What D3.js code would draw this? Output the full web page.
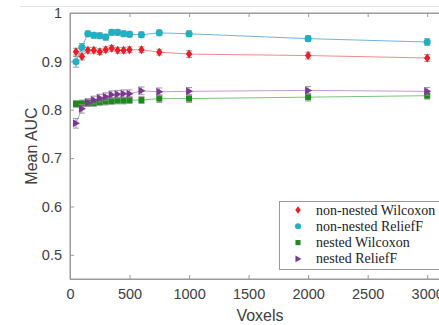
<!DOCTYPE html>
<html>
<head>
<meta charset="utf-8">
<script src="https://cdn.jsdelivr.net/npm/d3@7"></script>
<style>
  html, body { margin: 0; padding: 0; background: #fff; }
  svg { display: block; }
</style>
</head>
<body>
<div id="chart"></div>
<script>
// voxel counts on the x axis
const voxels = [50, 100, 150, 200, 250, 300, 350, 400, 450, 500, 600, 750, 1000, 2000, 3000];

// mean AUC per series
const nonNestedWilcoxon = [0.920, 0.910, 0.923, 0.923, 0.920, 0.924, 0.927, 0.923, 0.923, 0.924, 0.924, 0.919, 0.915, 0.912, 0.907];
const nonNestedRelief = [0.899, 0.929, 0.957, 0.954, 0.953, 0.950, 0.960, 0.960, 0.957, 0.956, 0.955, 0.959, 0.957, 0.947, 0.940];
const nestedWilcoxon = [0.812, 0.813, 0.814, 0.814, 0.816, 0.817, 0.818, 0.819, 0.819, 0.820, 0.820, 0.823, 0.823, 0.826, 0.829];
const nestedRelief = [0.772, 0.802, 0.815, 0.820, 0.824, 0.827, 0.831, 0.832, 0.833, 0.833, 0.839, 0.837, 0.838, 0.840, 0.838];

// error bar half widths
const errWilcoxon = [0.007, 0.007, 0.006, 0.006, 0.006, 0.006, 0.006, 0.006, 0.006, 0.006, 0.006, 0.006, 0.007, 0.007, 0.007];
const errRelief = [0.011, 0.008, 0.006, 0.006, 0.006, 0.006, 0.006, 0.006, 0.006, 0.006, 0.006, 0.006, 0.006, 0.006, 0.007];
const errNestedW = [0.007, 0.007, 0.007, 0.007, 0.007, 0.007, 0.007, 0.007, 0.007, 0.007, 0.007, 0.008, 0.008, 0.008, 0.007];
const errNestedR = [0.010, 0.009, 0.008, 0.008, 0.008, 0.008, 0.008, 0.008, 0.008, 0.008, 0.008, 0.008, 0.008, 0.008, 0.008];

const seriesNames = ['non-nested Wilcoxon', 'non-nested ReliefF', 'nested Wilcoxon', 'nested ReliefF'];
const xTicks = [0, 500, 1000, 1500, 2000, 2500, 3000];
const yTicks = [0.5, 0.6, 0.7, 0.8, 0.9, 1];

const width = 439, height = 325;
const margin = { top: 13, right: -12, bottom: 46, left: 70 };
const innerWidth = width - margin.left - margin.right;
const innerHeight = height - margin.top - margin.bottom;

const series = [
  { name: seriesNames[0], values: nonNestedWilcoxon, err: errWilcoxon, marker: '#ee1c25', line: '#f08a8a', shape: 'diamond' },
  { name: seriesNames[1], values: nonNestedRelief, err: errRelief, marker: '#20b0c4', line: '#6fb3dc', shape: 'circle' },
  { name: seriesNames[2], values: nestedWilcoxon, err: errNestedW, marker: '#1d8a1d', line: '#7cc47c', shape: 'square' },
  { name: seriesNames[3], values: nestedRelief, err: errNestedR, marker: '#7d3596', line: '#c49ad4', shape: 'triangle' }
];

const svg = d3.select('#chart').append('svg')
  .attr('width', width)
  .attr('height', height)
  .style('font-family', 'Arial, "Liberation Sans", sans-serif');

// faint frame line at the very top of the figure
svg.append('line')
  .attr('x1', 20).attr('x2', width)
  .attr('y1', 6.5).attr('y2', 6.5)
  .attr('stroke', '#e4e4e4');

const g = svg.append('g').attr('transform', `translate(${margin.left},${margin.top})`);

const x = d3.scaleLinear().domain([0, 3200]).range([0, innerWidth]);
const y = d3.scaleLinear().domain([0.45, 1]).range([innerHeight, 0]);

const axisColor = '#9a9a9a';
const textColor = '#404040';

// box
g.append('rect')
  .attr('x', 0).attr('y', 0)
  .attr('width', innerWidth).attr('height', innerHeight)
  .attr('fill', 'none').attr('stroke', axisColor).attr('stroke-width', 1);

// axes with inward ticks
const xAxis = g.append('g')
  .attr('transform', `translate(0,${innerHeight})`)
  .call(d3.axisBottom(x).tickValues(xTicks).tickSize(-4).tickPadding(10).tickFormat(d3.format('d')));
const xTop = g.append('g')
  .call(d3.axisTop(x).tickValues(xTicks).tickSize(-4).tickFormat(''));
const yAxis = g.append('g')
  .call(d3.axisLeft(y).tickValues(yTicks).tickSize(-4).tickPadding(8).tickFormat(d => d === 1 ? '1' : d3.format('.1f')(d)));

[xAxis, xTop, yAxis].forEach(a => {
  a.select('.domain').attr('stroke', axisColor);
  a.selectAll('line').attr('stroke', axisColor);
  a.selectAll('text').style('font-size', '14.5px').attr('fill', textColor);
});

const line = d3.line().x(d => x(d[0])).y(d => y(d[1]));

function symbolPath(shape) {
  if (shape === 'diamond') return 'M0,-4.5L3.2,0L0,4.5L-3.2,0Z';
  if (shape === 'circle') return d3.symbol(d3.symbolCircle, 40)();
  if (shape === 'square') return d3.symbol(d3.symbolSquare, 36)();
  return 'M4,0L-3,-4L-3,4Z';
}

series.forEach(s => {
  const pts = voxels.map((v, i) => [v, s.values[i], s.err[i]]);

  g.append('path')
    .datum(pts)
    .attr('d', line)
    .attr('fill', 'none')
    .attr('stroke', s.line)
    .attr('stroke-width', 1);

  const eb = g.append('g').attr('stroke', '#8c8c8c').attr('stroke-width', 1).attr('opacity', 0.85);
  pts.forEach(p => {
    const cx = x(p[0]);
    const y1 = y(p[1] - p[2]), y2 = y(p[1] + p[2]);
    eb.append('line').attr('x1', cx).attr('x2', cx).attr('y1', y1).attr('y2', y2);
    eb.append('line').attr('x1', cx - 3).attr('x2', cx + 3).attr('y1', y1).attr('y2', y1);
    eb.append('line').attr('x1', cx - 3).attr('x2', cx + 3).attr('y1', y2).attr('y2', y2);
  });

  g.append('g').selectAll('path')
    .data(pts)
    .join('path')
    .attr('transform', d => `translate(${x(d[0])},${y(d[1])})`)
    .attr('d', symbolPath(s.shape))
    .attr('fill', s.marker);
});

// axis titles
svg.append('text')
  .attr('x', 260).attr('y', 321)
  .attr('text-anchor', 'middle')
  .style('font-size', '16px')
  .attr('fill', textColor)
  .text('Voxels');

svg.append('text')
  .attr('transform', `translate(37,${margin.top + innerHeight / 2}) rotate(-90)`)
  .attr('text-anchor', 'middle')
  .style('font-size', '16px')
  .attr('fill', textColor)
  .text('Mean AUC');

// legend
const legend = svg.append('g').attr('transform', 'translate(279,201)');
legend.append('rect')
  .attr('x', 0.5).attr('y', 0.5)
  .attr('width', 170).attr('height', 68)
  .attr('fill', '#fff').attr('stroke', '#9a9a9a');

series.forEach((s, i) => {
  const row = legend.append('g').attr('transform', `translate(0,${9 + i * 16.3})`);
  row.append('path')
    .attr('transform', 'translate(19,0) scale(0.85)')
    .attr('d', symbolPath(s.shape))
    .attr('fill', s.marker);
  row.append('text')
    .attr('x', 37).attr('y', 4.5)
    .style('font-family', '"Liberation Serif", "Times New Roman", serif')
    .style('font-size', '14px')
    .attr('fill', '#222')
    .text(s.name);
});
</script>
</body>
</html>
